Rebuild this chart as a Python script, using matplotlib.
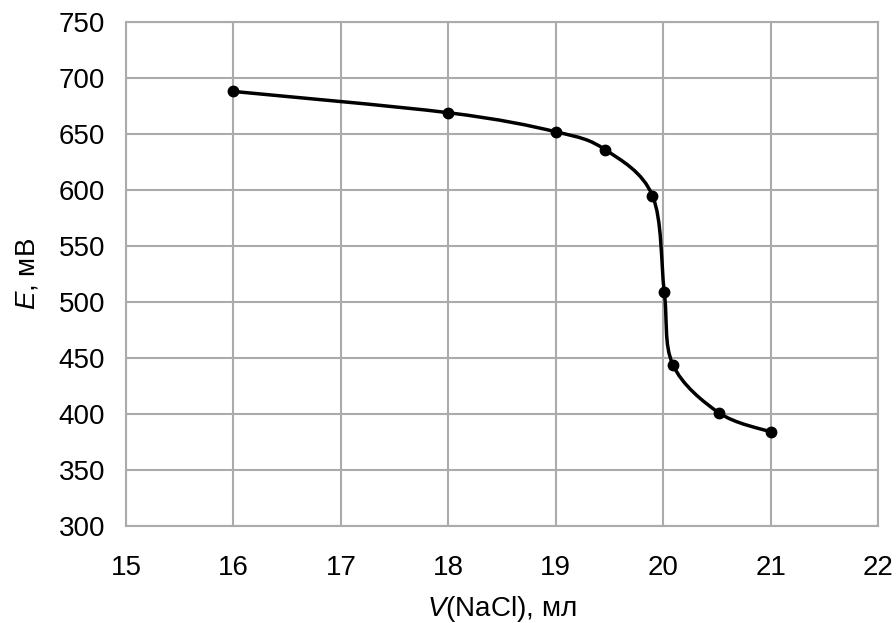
"""Potentiometric titration curve: E vs V(NaCl)."""

import numpy as np
import matplotlib
matplotlib.use('Agg')
from matplotlib import pyplot as plt
from matplotlib.path import Path
from matplotlib.patches import PathPatch

# Data
v_nacl = [16.0, 18.0, 19.0, 19.46, 19.9, 20.01, 20.09, 20.52, 21.0]
e_mv = [688, 669, 652, 636, 595, 509, 444, 401, 384]

x_ticks = [15, 16, 17, 18, 19, 20, 21, 22]
y_ticks = [300, 350, 400, 450, 500, 550, 600, 650, 700, 750]

plt.rcParams['font.family'] = ['Liberation Sans', 'DejaVu Sans']
plt.rcParams['mathtext.fontset'] = 'custom'
plt.rcParams['mathtext.rm'] = 'Liberation Sans'
plt.rcParams['mathtext.it'] = 'Liberation Sans:italic'

GRID = '#ababab'

fig = plt.figure(figsize=(8.96, 6.23), dpi=100)
ax = fig.add_axes([0.1406, 0.1557, 0.8394, 0.809])

# Smoothed line like a spreadsheet "smooth line": Catmull-Rom as cubic Bezier
pts = np.column_stack([v_nacl, e_mv]).astype(float)
padded = np.vstack([pts[0], pts, pts[-1]])
verts = [pts[0]]
codes = [Path.MOVETO]
for i in range(len(pts) - 1):
    p0, p1, p2, p3 = padded[i], padded[i + 1], padded[i + 2], padded[i + 3]
    c1 = p1 + (p2 - p0) / 6
    c2 = p2 - (p3 - p1) / 6
    verts += [c1, c2, p2]
    codes += [Path.CURVE4] * 3
ax.add_patch(PathPatch(Path(verts, codes), facecolor='none', edgecolor='black',
                       lw=2.5, zorder=3, capstyle='round'))
ax.plot(v_nacl, e_mv, 'o', color='black', markersize=7.5, zorder=4)

ax.set_xlim(15, 22)
ax.set_ylim(300, 750)
ax.set_xticks(x_ticks)
ax.set_yticks(y_ticks)
ax.grid(True, color=GRID, lw=1.5)
ax.set_axisbelow(True)
for s in ax.spines.values():
    s.set_color(GRID)
    s.set_linewidth(1.5)
ax.tick_params(length=0, labelsize=20)
ax.tick_params(axis='x', pad=21)
ax.tick_params(axis='y', pad=15)

ax.set_xlabel(r'$V$(NaCl), мл', fontsize=20, labelpad=9)
ax.set_ylabel(r'$E$, мВ', fontsize=20, labelpad=13)

fig.savefig('out.png', dpi=100)
